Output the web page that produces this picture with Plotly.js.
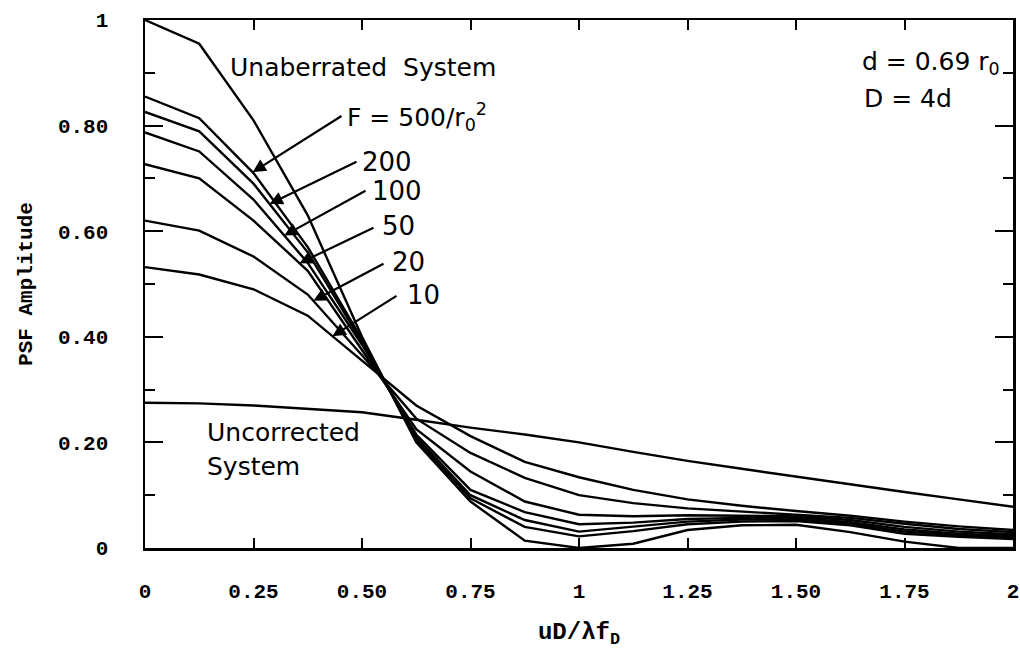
<!DOCTYPE html>
<html>
<head>
<meta charset="utf-8">
<script src="https://cdn.plot.ly/plotly-3.0.1.min.js"></script>
<style>html,body{margin:0;padding:0;background:#fff;}#chart{width:1020px;height:651px;}</style>
</head>
<body>
<div id="chart"></div>
<script>
// spatial frequency samples (uD / lambda f_D)
var freq = [0, 0.125, 0.25, 0.375, 0.5, 0.625, 0.75, 0.875, 1.0, 1.125, 1.25, 1.375, 1.5, 1.625, 1.75, 1.875, 2.0];

// PSF amplitude curves
var unaberrated = [1.000, 0.955, 0.810, 0.630, 0.400, 0.200, 0.088, 0.014, 0.000, 0.008, 0.034, 0.043, 0.044, 0.030, 0.012, 0.000, 0.000];
var f500 = [0.855, 0.814, 0.710, 0.570, 0.395, 0.205, 0.094, 0.040, 0.022, 0.032, 0.045, 0.050, 0.051, 0.043, 0.027, 0.021, 0.017];
var f200 = [0.826, 0.789, 0.690, 0.560, 0.390, 0.210, 0.100, 0.053, 0.031, 0.040, 0.050, 0.054, 0.054, 0.046, 0.031, 0.024, 0.020];
var f100 = [0.787, 0.751, 0.660, 0.540, 0.385, 0.215, 0.110, 0.068, 0.045, 0.048, 0.055, 0.057, 0.057, 0.049, 0.035, 0.027, 0.023];
var f50  = [0.727, 0.700, 0.620, 0.525, 0.375, 0.225, 0.145, 0.088, 0.063, 0.060, 0.062, 0.061, 0.060, 0.053, 0.040, 0.031, 0.026];
var f20  = [0.620, 0.601, 0.552, 0.480, 0.365, 0.245, 0.180, 0.133, 0.100, 0.085, 0.075, 0.069, 0.064, 0.057, 0.046, 0.036, 0.030];
var f10  = [0.532, 0.518, 0.490, 0.440, 0.355, 0.270, 0.212, 0.163, 0.134, 0.110, 0.092, 0.080, 0.070, 0.061, 0.050, 0.041, 0.034];
var uncorrected = [0.275, 0.274, 0.270, 0.264, 0.257, 0.243, 0.228, 0.215, 0.200, 0.182, 0.165, 0.150, 0.135, 0.120, 0.106, 0.092, 0.078];

// tick labels
var xTickVals = [0, 0.25, 0.5, 0.75, 1, 1.25, 1.5, 1.75, 2];
var xTickText = ["0", "0.25", "0.50", "0.75", "1", "1.25", "1.50", "1.75", "2"];
var yTickVals = [0, 0.2, 0.4, 0.6, 0.8, 1];
var yTickText = ["0", "0.20", "0.40", "0.60", "0.80", "1"];

// F labels and where their arrows point on each curve
var fLabels = ["F = 500/r<sub>0</sub><sup>2</sup>", "200", "100", "50", "20", "10"];
var fCurves = [f500, f200, f100, f50, f20, f10];
var arrowAt = [0.248, 0.287, 0.321, 0.356, 0.388, 0.432];

function interp(xs, ys, x) {
  for (var i = 0; i < xs.length - 1; i++) {
    if (x >= xs[i] && x <= xs[i + 1]) {
      var t = (x - xs[i]) / (xs[i + 1] - xs[i]);
      return ys[i] + t * (ys[i + 1] - ys[i]);
    }
  }
  return ys[ys.length - 1];
}

var allCurves = [unaberrated, f500, f200, f100, f50, f20, f10, uncorrected];
var names = ["Unaberrated", "F=500", "F=200", "F=100", "F=50", "F=20", "F=10", "Uncorrected"];
var traces = allCurves.map(function (c, i) {
  return {x: freq, y: c, type: "scatter", mode: "lines", name: names[i],
          line: {color: "#000", width: 2.4}, hoverinfo: "skip"};
});

var txtFont = {family: "DejaVu Sans", size: 25, color: "#000"};
var bigFont = {family: "DejaVu Sans", size: 26, color: "#000"};
var tickFont = {family: "Liberation Mono", size: 21, color: "#000", weight: "bold"};
var titleFont = {family: "Liberation Mono", size: 21, color: "#000", weight: "bold"};
var xTitleFont = {family: "Liberation Mono", size: 24, color: "#000", weight: "bold"};

// plot area geometry helpers (pixel -> data) for text placement
var PL = 145, PW = 868, PT = 20, PH = 528;
function ux(px) { return (px - PL) / PW * 2; }
function vy(py) { return (PT + PH - py) / PH; }

var annotations = [];
var tails = [[343, 115], [358, 161], [367, 190], [375, 227], [385, 263], [398, 295]];
var labelLeft = [345, 360, 370, 380, 390, 405];
var labelY = [117, 162, 191, 226, 262, 295];
for (var k = 0; k < fLabels.length; k++) {
  var tu = arrowAt[k];
  var tv = interp(freq, fCurves[k], tu);
  annotations.push({x: tu, y: tv, xref: "x", yref: "y",
    ax: ux(tails[k][0]), ay: vy(tails[k][1]), axref: "x", ayref: "y",
    showarrow: true, arrowhead: 2, arrowsize: 1.2, arrowwidth: 2.2, arrowcolor: "#000",
    standoff: 0, startstandoff: 0, text: ""});
  annotations.push({x: ux(labelLeft[k]), y: vy(labelY[k]), xref: "x", yref: "y",
    xanchor: "left", yanchor: "middle", showarrow: false, text: fLabels[k],
    font: k === 0 ? txtFont : bigFont});
}
annotations.push({x: ux(228), y: vy(67), xref: "x", yref: "y", xanchor: "left", yanchor: "middle",
  showarrow: false, text: "Unaberrated\u00a0\u00a0System", font: txtFont});
annotations.push({x: ux(205), y: vy(432), xref: "x", yref: "y", xanchor: "left", yanchor: "middle",
  showarrow: false, text: "Uncorrected", font: txtFont});
annotations.push({x: ux(205), y: vy(466), xref: "x", yref: "y", xanchor: "left", yanchor: "middle",
  showarrow: false, text: "System", font: txtFont});
annotations.push({x: ux(860), y: vy(63), xref: "x", yref: "y", xanchor: "left", yanchor: "middle",
  showarrow: false, text: "d = 0.69 r<sub>0</sub>", font: txtFont});
annotations.push({x: ux(862), y: vy(98), xref: "x", yref: "y", xanchor: "left", yanchor: "middle",
  showarrow: false, text: "D = 4d", font: txtFont});

var layout = {
  width: 1020, height: 651,
  margin: {l: PL, r: 1020 - PL - PW, t: PT, b: 651 - PT - PH, pad: 0},
  paper_bgcolor: "#fff", plot_bgcolor: "#fff",
  showlegend: false,
  xaxis: {range: [0, 2], tickvals: xTickVals, ticktext: xTickText, ticks: "inside", ticklen: 10,
    tickwidth: 2, tickcolor: "#000", showline: true, linewidth: 2.5, linecolor: "#000",
    mirror: "allticks", showgrid: false, zeroline: false, tickfont: tickFont,
    ticklabelstandoff: 22, ticklabeloverflow: "allow", automargin: false,
    title: {text: "uD/\u03bbf<sub>D</sub>", font: xTitleFont, standoff: 20}},
  yaxis: {range: [0, 1], tickvals: yTickVals, ticktext: yTickText, ticks: "inside", ticklen: 18,
    tickwidth: 2, tickcolor: "#000", showline: true, linewidth: 2.5, linecolor: "#000",
    mirror: "allticks", showgrid: false, zeroline: false, tickfont: tickFont,
    ticklabelstandoff: 30, ticklabeloverflow: "allow", automargin: false,
    minor: {tickvals: [0.1, 0.3, 0.5, 0.7, 0.9], ticks: "inside", ticklen: 10, tickwidth: 2, tickcolor: "#000", showgrid: false},
    title: {text: "PSF Amplitude", font: titleFont, standoff: 20}},
  annotations: annotations
};

Plotly.newPlot("chart", traces, layout, {staticPlot: true, displayModeBar: false});
</script>
</body>
</html>
